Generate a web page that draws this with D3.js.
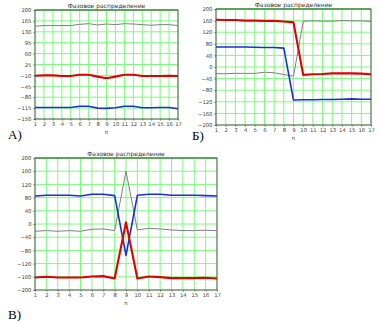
<!DOCTYPE html>
<html><head><meta charset="utf-8">
<script src="https://cdn.jsdelivr.net/npm/d3@7"></script>
<style>body{margin:0;background:#fff}svg{display:block}</style>
</head><body>
<script>
const xs = d3.range(1, 18);
const title = "Фазовое распределение";
const xLabel = "n";
// Chart A
const ticksA = [200,165,130,95,60,25,-10,-45,-80,-115,-150];
const grayA = [148,150,150,150,150,154,156,152,155,153,156,155,153,151,153,153,150];
const redA  = [-11,-10,-10,-12,-12,-8,-8,-14,-19,-14,-8,-8,-12,-12,-12,-11,-12];
const blueA = [-113,-113,-113,-113,-113,-109,-109,-115,-116,-114,-109,-109,-114,-114,-113,-113,-117];
// Chart Б
const ticksB = [200,160,120,80,40,0,-40,-80,-120,-160,-200];
const grayB = [-23,-23,-22,-22,-22,-18,-20,-26,-32,158,159,158,158,160,159,159,157];
const redB  = [163,162,162,160,160,159,159,157,154,-27,-25,-24,-22,-22,-22,-23,-25];
const blueB = [69,69,69,69,68,67,67,65,-114,-113,-113,-112,-112,-111,-110,-111,-111];
// Chart В
const ticksC = [200,160,120,80,40,0,-40,-80,-120,-160,-200];
const grayC = [-22,-20,-22,-20,-22,-16,-15,-20,160,-18,-13,-15,-18,-20,-20,-19,-20];
const redC  = [-162,-160,-162,-162,-162,-159,-158,-165,5,-165,-159,-161,-164,-164,-164,-163,-165];
const blueC = [85,87,87,87,85,90,90,86,-95,87,90,90,87,87,87,86,85];

const svg = d3.select("body").append("svg").attr("width",380).attr("height",321)
  .style("font-family","'DejaVu Sans', sans-serif");

function chart(box, ticks, series, letter, letterPos){
  const g = svg.append("g");
  const x = d3.scaleLinear().domain([1,17]).range([box.x0, box.x1]);
  const y = d3.scaleLinear().domain([d3.min(ticks), d3.max(ticks)]).range([box.y1, box.y0]);
  // grid
  g.selectAll(".vg").data(xs).join("line")
    .attr("x1",d=>x(d)).attr("x2",d=>x(d)).attr("y1",box.y0).attr("y2",box.y1)
    .attr("stroke","#7dfa7d").attr("stroke-width",1);
  g.selectAll(".hg").data(ticks).join("line")
    .attr("y1",d=>y(d)).attr("y2",d=>y(d)).attr("x1",box.x0).attr("x2",box.x1)
    .attr("stroke","#7dfa7d").attr("stroke-width",1);
  // frame
  g.append("rect").attr("x",box.x0).attr("y",box.y0).attr("width",box.x1-box.x0).attr("height",box.y1-box.y0)
    .attr("fill","none").attr("stroke","#606060").attr("stroke-width",1);
  g.append("line").attr("x1",box.x0).attr("x2",box.x1).attr("y1",box.y0).attr("y2",box.y0)
    .attr("stroke","#2a9a2a").attr("stroke-width",1.2);
  // axes labels
  const ax = g.append("g").attr("transform",`translate(0,${box.y1})`)
    .call(d3.axisBottom(x).tickValues(xs).tickSize(1.5).tickPadding(1.5).tickFormat(d3.format("d")));
  const ay = g.append("g").attr("transform",`translate(${box.x0},0)`)
    .call(d3.axisLeft(y).tickValues(ticks).tickSize(1.5).tickPadding(2).tickFormat(d3.format("d")));
  [ax, ay].forEach(a=>{
    a.select(".domain").remove();
    a.selectAll("line").attr("stroke","#606060");
    a.selectAll("text").attr("font-size",5.3).attr("fill","#404040").attr("font-family","'DejaVu Sans', sans-serif");
  });
  // series
  const line = d3.line().x((d,i)=>x(xs[i])).y(d=>y(d));
  series.forEach(s=>{
    g.append("path").datum(s.v).attr("d",line).attr("fill","none")
      .attr("stroke",s.c).attr("stroke-width",s.w).attr("stroke-linejoin","round");
  });
  // title and x label
  const cx = (box.x0+box.x1)/2;
  g.append("text").attr("x",cx).attr("y",box.y0-2.5).attr("text-anchor","middle")
    .attr("font-size",6).attr("fill","#303030").text(title);
  g.append("text").attr("x",cx).attr("y",box.y1+15).attr("text-anchor","middle")
    .attr("font-size",5.3).attr("fill","#404040").text(xLabel);
  svg.append("text").attr("x",letterPos[0]).attr("y",letterPos[1])
    .attr("font-family","'Liberation Serif', serif").attr("font-size",13).attr("fill","#000").text(letter);
}

chart({x0:35,x1:178,y0:10,y1:119}, ticksA,
  [{v:grayA,c:"#808080",w:1},{v:redA,c:"#e00000",w:2.1},{v:blueA,c:"#1a2ee0",w:1.6}],
  "А)", [8,139]);
chart({x0:216,x1:371,y0:9,y1:125}, ticksB,
  [{v:grayB,c:"#808080",w:1},{v:blueB,c:"#1a2ee0",w:1.6},{v:redB,c:"#e00000",w:2.1}],
  "Б)", [192,140]);
chart({x0:35,x1:217,y0:158,y1:290}, ticksC,
  [{v:grayC,c:"#808080",w:1},{v:blueC,c:"#1a2ee0",w:1.6},{v:redC,c:"#e00000",w:2.1}],
  "В)", [8,319]);
</script>
</body></html>
